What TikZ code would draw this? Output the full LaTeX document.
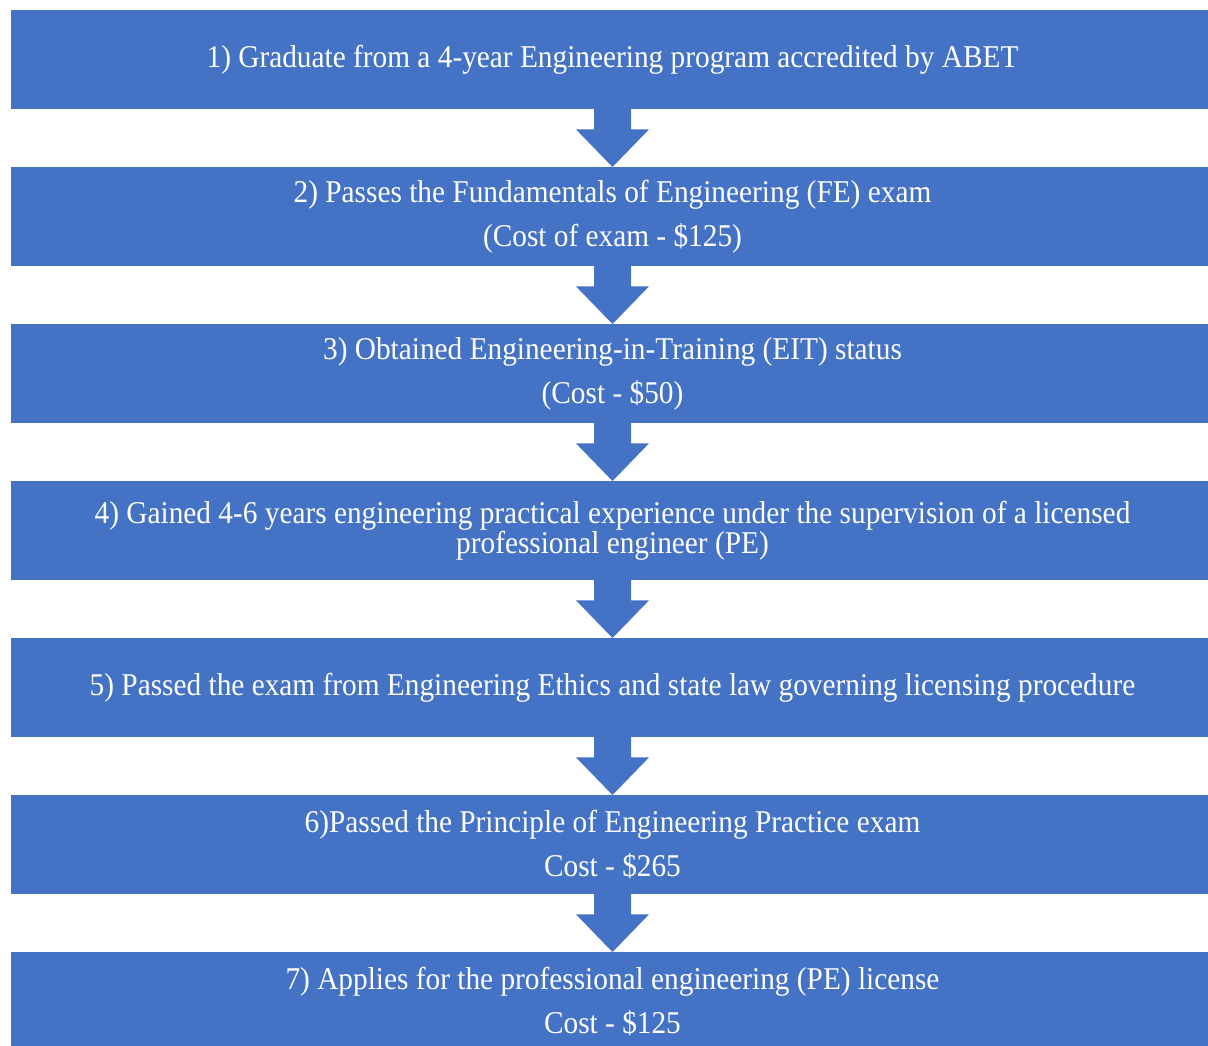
\documentclass[tikz,border=0pt]{standalone}
\usepackage{fontspec}
\setmainfont{Liberation Serif}[FakeStretch=0.925]
\usetikzlibrary{calc}
\definecolor{boxblue}{HTML}{4472C4}
\tikzset{
  stepbox/.style={fill=boxblue, text=white, minimum width=1204pt, minimum height=99.5pt,
    inner sep=0pt, align=center, font=\fontsize{31.7}{30}\selectfont, anchor=north},
  flowarrow/.style={fill=boxblue},
}
\newcommand{\blockarrow}[2]{%
  \fill[flowarrow] ($(#1.south)+(-18.5pt,0.5pt)$) -- ($(#1.south)+(18.5pt,0.5pt)$)
    -- ($(#1.south)+(18.5pt,-20pt)$) -- ($(#1.south)+(36.5pt,-20pt)$)
    -- ($(#2.north)+(0,-0.5pt)$) -- ($(#1.south)+(-36.5pt,-20pt)$)
    -- ($(#1.south)+(-18.5pt,-20pt)$) -- cycle;}
\begin{document}
\begin{tikzpicture}[x=1pt,y=-1pt]
\clip (0,0) rectangle (1208,1046);
\useasboundingbox (0,0) rectangle (1208,1046);
\fill[white] (0,0) rectangle (1208,1046);
\node[stepbox] (b1) at (612.5,9.5) {1) Graduate from a 4-year Engineering program accredited by ABET};
\node[stepbox] (b2) at (612.5,166.5) {2) Passes the Fundamentals of Engineering (FE) exam\\[14pt](Cost of exam - \$125)};
\node[stepbox] (b3) at (612.5,323.5) {3) Obtained Engineering-in-Training (EIT) status\\[14pt](Cost - \$50)};
\node[stepbox] (b4) at (612.5,480.5) {4) Gained 4-6 years engineering practical experience under the supervision of a licensed\\professional engineer (PE)};
\node[stepbox] (b5) at (612.5,637.5) {5) Passed the exam from Engineering Ethics and state law governing licensing procedure};
\node[stepbox] (b6) at (612.5,794.5) {6)Passed the Principle of Engineering Practice exam\\[14pt]Cost - \$265};
\node[stepbox] (b7) at (612.5,951.5) {7) Applies for the professional engineering (PE) license\\[14pt]Cost - \$125};
\blockarrow{b1}{b2}
\blockarrow{b2}{b3}
\blockarrow{b3}{b4}
\blockarrow{b4}{b5}
\blockarrow{b5}{b6}
\blockarrow{b6}{b7}
\end{tikzpicture}
\end{document}
